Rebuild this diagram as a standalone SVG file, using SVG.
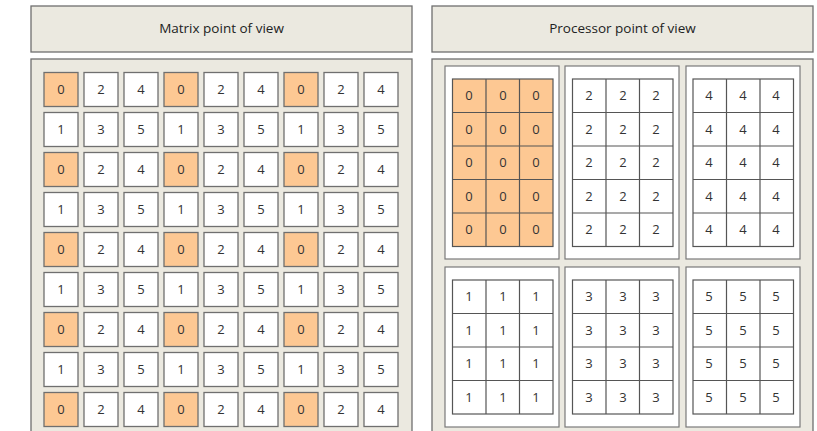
<svg xmlns="http://www.w3.org/2000/svg" width="817" height="431" viewBox="0 0 817 431">
<style>
.box{fill:#ebe9e0;stroke:#6f6f6f;stroke-width:1.3}
.hd{font-family:"Open Sans","Liberation Sans",sans-serif;font-size:13.5px;fill:#222;text-anchor:middle}
.c{fill:#fff;stroke:#6f6f6f;stroke-width:1.3}
.o{fill:#fdc893;stroke:#6f6f6f;stroke-width:1.3}
.p{fill:#fff;stroke:#7a7a7a;stroke-width:1.2}
.g{stroke:#555;stroke-width:1.2;fill:none}
.t{font-family:"Open Sans","Liberation Sans",sans-serif;font-size:13px;fill:#333;text-anchor:middle}
</style>
<rect width="817" height="431" fill="#fff"/>
<g id="matrix-header"><rect class="box" x="31" y="6" width="381" height="46"/><text class="hd" x="221.5" y="33">Matrix point of view</text></g>
<g id="processor-header"><rect class="box" x="432" y="6" width="381" height="46"/><text class="hd" x="622.5" y="33">Processor point of view</text></g>
<g id="matrix-body"><rect class="box" x="31" y="59" width="381" height="380"/>
<g id="mrow0"><rect class="o" x="44" y="72.5" width="34" height="34"/><rect class="c" x="84" y="72.5" width="34" height="34"/><rect class="c" x="124" y="72.5" width="34" height="34"/><rect class="o" x="164" y="72.5" width="34" height="34"/><rect class="c" x="204" y="72.5" width="34" height="34"/><rect class="c" x="244" y="72.5" width="34" height="34"/><rect class="o" x="284" y="72.5" width="34" height="34"/><rect class="c" x="324" y="72.5" width="34" height="34"/><rect class="c" x="364" y="72.5" width="34" height="34"/>
<text class="t" y="94"><tspan x="61">0</tspan><tspan x="101">2</tspan><tspan x="141">4</tspan><tspan x="181">0</tspan><tspan x="221">2</tspan><tspan x="261">4</tspan><tspan x="301">0</tspan><tspan x="341">2</tspan><tspan x="381">4</tspan></text></g>
<g id="mrow1"><rect class="c" x="44" y="112.5" width="34" height="34"/><rect class="c" x="84" y="112.5" width="34" height="34"/><rect class="c" x="124" y="112.5" width="34" height="34"/><rect class="c" x="164" y="112.5" width="34" height="34"/><rect class="c" x="204" y="112.5" width="34" height="34"/><rect class="c" x="244" y="112.5" width="34" height="34"/><rect class="c" x="284" y="112.5" width="34" height="34"/><rect class="c" x="324" y="112.5" width="34" height="34"/><rect class="c" x="364" y="112.5" width="34" height="34"/>
<text class="t" y="134"><tspan x="61">1</tspan><tspan x="101">3</tspan><tspan x="141">5</tspan><tspan x="181">1</tspan><tspan x="221">3</tspan><tspan x="261">5</tspan><tspan x="301">1</tspan><tspan x="341">3</tspan><tspan x="381">5</tspan></text></g>
<g id="mrow2"><rect class="o" x="44" y="152.5" width="34" height="34"/><rect class="c" x="84" y="152.5" width="34" height="34"/><rect class="c" x="124" y="152.5" width="34" height="34"/><rect class="o" x="164" y="152.5" width="34" height="34"/><rect class="c" x="204" y="152.5" width="34" height="34"/><rect class="c" x="244" y="152.5" width="34" height="34"/><rect class="o" x="284" y="152.5" width="34" height="34"/><rect class="c" x="324" y="152.5" width="34" height="34"/><rect class="c" x="364" y="152.5" width="34" height="34"/>
<text class="t" y="174"><tspan x="61">0</tspan><tspan x="101">2</tspan><tspan x="141">4</tspan><tspan x="181">0</tspan><tspan x="221">2</tspan><tspan x="261">4</tspan><tspan x="301">0</tspan><tspan x="341">2</tspan><tspan x="381">4</tspan></text></g>
<g id="mrow3"><rect class="c" x="44" y="192.5" width="34" height="34"/><rect class="c" x="84" y="192.5" width="34" height="34"/><rect class="c" x="124" y="192.5" width="34" height="34"/><rect class="c" x="164" y="192.5" width="34" height="34"/><rect class="c" x="204" y="192.5" width="34" height="34"/><rect class="c" x="244" y="192.5" width="34" height="34"/><rect class="c" x="284" y="192.5" width="34" height="34"/><rect class="c" x="324" y="192.5" width="34" height="34"/><rect class="c" x="364" y="192.5" width="34" height="34"/>
<text class="t" y="214"><tspan x="61">1</tspan><tspan x="101">3</tspan><tspan x="141">5</tspan><tspan x="181">1</tspan><tspan x="221">3</tspan><tspan x="261">5</tspan><tspan x="301">1</tspan><tspan x="341">3</tspan><tspan x="381">5</tspan></text></g>
<g id="mrow4"><rect class="o" x="44" y="232.5" width="34" height="34"/><rect class="c" x="84" y="232.5" width="34" height="34"/><rect class="c" x="124" y="232.5" width="34" height="34"/><rect class="o" x="164" y="232.5" width="34" height="34"/><rect class="c" x="204" y="232.5" width="34" height="34"/><rect class="c" x="244" y="232.5" width="34" height="34"/><rect class="o" x="284" y="232.5" width="34" height="34"/><rect class="c" x="324" y="232.5" width="34" height="34"/><rect class="c" x="364" y="232.5" width="34" height="34"/>
<text class="t" y="254"><tspan x="61">0</tspan><tspan x="101">2</tspan><tspan x="141">4</tspan><tspan x="181">0</tspan><tspan x="221">2</tspan><tspan x="261">4</tspan><tspan x="301">0</tspan><tspan x="341">2</tspan><tspan x="381">4</tspan></text></g>
<g id="mrow5"><rect class="c" x="44" y="272.5" width="34" height="34"/><rect class="c" x="84" y="272.5" width="34" height="34"/><rect class="c" x="124" y="272.5" width="34" height="34"/><rect class="c" x="164" y="272.5" width="34" height="34"/><rect class="c" x="204" y="272.5" width="34" height="34"/><rect class="c" x="244" y="272.5" width="34" height="34"/><rect class="c" x="284" y="272.5" width="34" height="34"/><rect class="c" x="324" y="272.5" width="34" height="34"/><rect class="c" x="364" y="272.5" width="34" height="34"/>
<text class="t" y="294"><tspan x="61">1</tspan><tspan x="101">3</tspan><tspan x="141">5</tspan><tspan x="181">1</tspan><tspan x="221">3</tspan><tspan x="261">5</tspan><tspan x="301">1</tspan><tspan x="341">3</tspan><tspan x="381">5</tspan></text></g>
<g id="mrow6"><rect class="o" x="44" y="312.5" width="34" height="34"/><rect class="c" x="84" y="312.5" width="34" height="34"/><rect class="c" x="124" y="312.5" width="34" height="34"/><rect class="o" x="164" y="312.5" width="34" height="34"/><rect class="c" x="204" y="312.5" width="34" height="34"/><rect class="c" x="244" y="312.5" width="34" height="34"/><rect class="o" x="284" y="312.5" width="34" height="34"/><rect class="c" x="324" y="312.5" width="34" height="34"/><rect class="c" x="364" y="312.5" width="34" height="34"/>
<text class="t" y="334"><tspan x="61">0</tspan><tspan x="101">2</tspan><tspan x="141">4</tspan><tspan x="181">0</tspan><tspan x="221">2</tspan><tspan x="261">4</tspan><tspan x="301">0</tspan><tspan x="341">2</tspan><tspan x="381">4</tspan></text></g>
<g id="mrow7"><rect class="c" x="44" y="352.5" width="34" height="34"/><rect class="c" x="84" y="352.5" width="34" height="34"/><rect class="c" x="124" y="352.5" width="34" height="34"/><rect class="c" x="164" y="352.5" width="34" height="34"/><rect class="c" x="204" y="352.5" width="34" height="34"/><rect class="c" x="244" y="352.5" width="34" height="34"/><rect class="c" x="284" y="352.5" width="34" height="34"/><rect class="c" x="324" y="352.5" width="34" height="34"/><rect class="c" x="364" y="352.5" width="34" height="34"/>
<text class="t" y="374"><tspan x="61">1</tspan><tspan x="101">3</tspan><tspan x="141">5</tspan><tspan x="181">1</tspan><tspan x="221">3</tspan><tspan x="261">5</tspan><tspan x="301">1</tspan><tspan x="341">3</tspan><tspan x="381">5</tspan></text></g>
<g id="mrow8"><rect class="o" x="44" y="392.5" width="34" height="34"/><rect class="c" x="84" y="392.5" width="34" height="34"/><rect class="c" x="124" y="392.5" width="34" height="34"/><rect class="o" x="164" y="392.5" width="34" height="34"/><rect class="c" x="204" y="392.5" width="34" height="34"/><rect class="c" x="244" y="392.5" width="34" height="34"/><rect class="o" x="284" y="392.5" width="34" height="34"/><rect class="c" x="324" y="392.5" width="34" height="34"/><rect class="c" x="364" y="392.5" width="34" height="34"/>
<text class="t" y="414"><tspan x="61">0</tspan><tspan x="101">2</tspan><tspan x="141">4</tspan><tspan x="181">0</tspan><tspan x="221">2</tspan><tspan x="261">4</tspan><tspan x="301">0</tspan><tspan x="341">2</tspan><tspan x="381">4</tspan></text></g>
</g>
<g id="processor-body"><rect class="box" x="432" y="59" width="381" height="380"/>
<g id="proc0"><rect class="p" x="445" y="66" width="114" height="193"/>
<rect class="g" x="452.5" y="79" width="100.5" height="167.5" style="fill:#fdc893"/>
<path class="g" d="M486 79V246.5M519.5 79V246.5M452.5 112.5H553M452.5 146H553M452.5 179.5H553M452.5 213H553"/>
<text class="t"><tspan x="469" y="100">0</tspan><tspan x="503" y="100">0</tspan><tspan x="536" y="100">0</tspan><tspan x="469" y="134">0</tspan><tspan x="503" y="134">0</tspan><tspan x="536" y="134">0</tspan><tspan x="469" y="167">0</tspan><tspan x="503" y="167">0</tspan><tspan x="536" y="167">0</tspan><tspan x="469" y="201">0</tspan><tspan x="503" y="201">0</tspan><tspan x="536" y="201">0</tspan><tspan x="469" y="234">0</tspan><tspan x="503" y="234">0</tspan><tspan x="536" y="234">0</tspan></text></g>
<g id="proc2"><rect class="p" x="565" y="66" width="114" height="193"/>
<rect class="g" x="572.5" y="79" width="100.5" height="167.5"/>
<path class="g" d="M606 79V246.5M639.5 79V246.5M572.5 112.5H673M572.5 146H673M572.5 179.5H673M572.5 213H673"/>
<text class="t"><tspan x="589" y="100">2</tspan><tspan x="623" y="100">2</tspan><tspan x="656" y="100">2</tspan><tspan x="589" y="134">2</tspan><tspan x="623" y="134">2</tspan><tspan x="656" y="134">2</tspan><tspan x="589" y="167">2</tspan><tspan x="623" y="167">2</tspan><tspan x="656" y="167">2</tspan><tspan x="589" y="201">2</tspan><tspan x="623" y="201">2</tspan><tspan x="656" y="201">2</tspan><tspan x="589" y="234">2</tspan><tspan x="623" y="234">2</tspan><tspan x="656" y="234">2</tspan></text></g>
<g id="proc4"><rect class="p" x="686" y="66" width="114" height="193"/>
<rect class="g" x="693" y="79" width="100.5" height="167.5"/>
<path class="g" d="M726.5 79V246.5M760 79V246.5M693 112.5H793.5M693 146H793.5M693 179.5H793.5M693 213H793.5"/>
<text class="t"><tspan x="709" y="100">4</tspan><tspan x="743" y="100">4</tspan><tspan x="776" y="100">4</tspan><tspan x="709" y="134">4</tspan><tspan x="743" y="134">4</tspan><tspan x="776" y="134">4</tspan><tspan x="709" y="167">4</tspan><tspan x="743" y="167">4</tspan><tspan x="776" y="167">4</tspan><tspan x="709" y="201">4</tspan><tspan x="743" y="201">4</tspan><tspan x="776" y="201">4</tspan><tspan x="709" y="234">4</tspan><tspan x="743" y="234">4</tspan><tspan x="776" y="234">4</tspan></text></g>
<g id="proc1"><rect class="p" x="445" y="267" width="114" height="160"/>
<rect class="g" x="452.5" y="280" width="100.5" height="134"/>
<path class="g" d="M486 280V414M519.5 280V414M452.5 313.5H553M452.5 347H553M452.5 380.5H553"/>
<text class="t"><tspan x="469" y="301">1</tspan><tspan x="503" y="301">1</tspan><tspan x="536" y="301">1</tspan><tspan x="469" y="335">1</tspan><tspan x="503" y="335">1</tspan><tspan x="536" y="335">1</tspan><tspan x="469" y="368">1</tspan><tspan x="503" y="368">1</tspan><tspan x="536" y="368">1</tspan><tspan x="469" y="402">1</tspan><tspan x="503" y="402">1</tspan><tspan x="536" y="402">1</tspan></text></g>
<g id="proc3"><rect class="p" x="565" y="267" width="114" height="160"/>
<rect class="g" x="572.5" y="280" width="100.5" height="134"/>
<path class="g" d="M606 280V414M639.5 280V414M572.5 313.5H673M572.5 347H673M572.5 380.5H673"/>
<text class="t"><tspan x="589" y="301">3</tspan><tspan x="623" y="301">3</tspan><tspan x="656" y="301">3</tspan><tspan x="589" y="335">3</tspan><tspan x="623" y="335">3</tspan><tspan x="656" y="335">3</tspan><tspan x="589" y="368">3</tspan><tspan x="623" y="368">3</tspan><tspan x="656" y="368">3</tspan><tspan x="589" y="402">3</tspan><tspan x="623" y="402">3</tspan><tspan x="656" y="402">3</tspan></text></g>
<g id="proc5"><rect class="p" x="686" y="267" width="114" height="160"/>
<rect class="g" x="693" y="280" width="100.5" height="134"/>
<path class="g" d="M726.5 280V414M760 280V414M693 313.5H793.5M693 347H793.5M693 380.5H793.5"/>
<text class="t"><tspan x="709" y="301">5</tspan><tspan x="743" y="301">5</tspan><tspan x="776" y="301">5</tspan><tspan x="709" y="335">5</tspan><tspan x="743" y="335">5</tspan><tspan x="776" y="335">5</tspan><tspan x="709" y="368">5</tspan><tspan x="743" y="368">5</tspan><tspan x="776" y="368">5</tspan><tspan x="709" y="402">5</tspan><tspan x="743" y="402">5</tspan><tspan x="776" y="402">5</tspan></text></g>
</g>
<g id="connectors"/>
</svg>
